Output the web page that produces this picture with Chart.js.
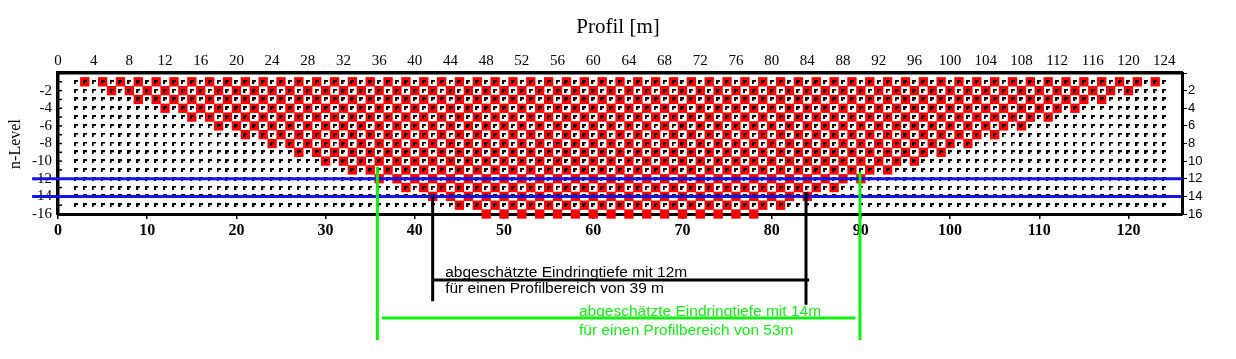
<!DOCTYPE html>
<html>
<head>
<meta charset="utf-8">
<script src="https://cdn.jsdelivr.net/npm/chart.js@4.4.1/dist/chart.umd.min.js"></script>
<style>
  html, body { margin: 0; padding: 0; background: #fff; }
</style>
</head>
<body>
<canvas id="pseudo" width="1236" height="359"></canvas>
<script>
// ---------------------------------------------------------------------------
// Daten (aus der Pseudosektion abgelesen)
// ---------------------------------------------------------------------------
const titel = 'Profil [m]';
const achseY = 'n-Level';

// n-Level der Messpunkte
const levels = [1, 2, 3, 4, 5, 6, 7, 8, 9, 10, 11, 12, 13, 14, 15, 16];

// schwarze Messpunkte: Positionen pro Level (Level 1..15)
const schwarzLevels = [1, 2, 3, 4, 5, 6, 7, 8, 9, 10, 11, 12, 13, 14, 15];
const schwarzX = [2,3,4,5,6,7,8,9,10,11,12,13,14,15,16,17,18,19,20,21,22,23,24,25,26,27,28,29,30,31,32,33,34,35,36,37,38,39,40,41,42,43,44,45,46,47,48,49,50,51,52,53,54,55,56,57,58,59,60,61,62,63,64,65,66,67,68,69,70,71,72,73,74,75,76,77,78,79,80,81,82,83,84,85,86,87,88,89,90,91,92,93,94,95,96,97,98,99,100,101,102,103,104,105,106,107,108,109,110,111,112,113,114,115,116,117,118,119,120,121,122,123,124];

// rote Messpunkte: eine Liste pro Level
const rotL1  = [3,5,7,9,11,13,15,17,19,21,23,25,27,29,31,33,35,37,39,41,43,45,47,49,51,53,55,57,59,61,63,65,67,69,71,73,75,77,79,81,83,85,87,89,91,93,95,97,99,101,103,105,107,109,111,113,115,117,119,121,123];
const rotL2  = [6,8,10,12,14,16,18,20,22,24,26,28,30,32,34,36,38,40,42,44,46,48,50,52,54,56,58,60,62,64,66,68,70,72,74,76,78,80,82,84,86,88,90,92,94,96,98,100,102,104,106,108,110,112,114,116,118,120];
const rotL3  = [9,11,13,15,17,19,21,23,25,27,29,31,33,35,37,39,41,43,45,47,49,51,53,55,57,59,61,63,65,67,69,71,73,75,77,79,81,83,85,87,89,91,93,95,97,99,101,103,105,107,109,111,113,115,117];
const rotL4  = [12,14,16,18,20,22,24,26,28,30,32,34,36,38,40,42,44,46,48,50,52,54,56,58,60,62,64,66,68,70,72,74,76,78,80,82,84,86,88,90,92,94,96,98,100,102,104,106,108,110,112,114];
const rotL5  = [15,17,19,21,23,25,27,29,31,33,35,37,39,41,43,45,47,49,51,53,55,57,59,61,63,65,67,69,71,73,75,77,79,81,83,85,87,89,91,93,95,97,99,101,103,105,107,109,111];
const rotL6  = [18,20,22,24,26,28,30,32,34,36,38,40,42,44,46,48,50,52,54,56,58,60,62,64,66,68,70,72,74,76,78,80,82,84,86,88,90,92,94,96,98,100,102,104,106,108];
const rotL7  = [21,23,25,27,29,31,33,35,37,39,41,43,45,47,49,51,53,55,57,59,61,63,65,67,69,71,73,75,77,79,81,83,85,87,89,91,93,95,97,99,101,103,105];
const rotL8  = [24,26,28,30,32,34,36,38,40,42,44,46,48,50,52,54,56,58,60,62,64,66,68,70,72,74,76,78,80,82,84,86,88,90,92,94,96,98,100,102];
const rotL9  = [27,29,31,33,35,37,39,41,43,45,47,49,51,53,55,57,59,61,63,65,67,69,71,73,75,77,79,81,83,85,87,89,91,93,95,97,99];
const rotL10 = [30,32,34,36,38,40,42,44,46,48,50,52,54,56,58,60,62,64,66,68,70,72,74,76,78,80,82,84,86,88,90,92,94,96];
const rotL11 = [33,35,37,39,41,43,45,47,49,51,53,55,57,59,61,63,65,67,69,71,73,75,77,79,81,83,85,87,89,91,93];
const rotL12 = [36,38,40,42,44,46,48,50,52,54,56,58,60,62,64,66,68,70,72,74,76,78,80,82,84,86,88,90];
const rotL13 = [39,41,43,45,47,49,51,53,55,57,59,61,63,65,67,69,71,73,75,77,79,81,83,85,87];
const rotL14 = [42,44,46,48,50,52,54,56,58,60,62,64,66,68,70,72,74,76,78,80,82,84];
const rotL15 = [45,47,49,51,53,55,57,59,61,63,65,67,69,71,73,75,77,79,81];
const rotL16 = [48,50,52,54,56,58,60,62,64,66,68,70,72,74,76,78];
const rotX = [rotL1, rotL2, rotL3, rotL4, rotL5, rotL6, rotL7, rotL8,
              rotL9, rotL10, rotL11, rotL12, rotL13, rotL14, rotL15, rotL16];

// Markierungen: Eindringtiefen (blau) und Profilbereiche
const tiefenBlau = [12, 14];
const gruenX = [35.8, 89.9];       // Profilbereich 53 m
const gruenOben = [10.6, 11.2];
const schwarzBereichX = [42.0, 83.85]; // Profilbereich 39 m
const textSchwarz = ['abgeschätzte Eindringtiefe mit 12m', 'für einen Profilbereich von 39 m'];
const textGruen = ['abgeschätzte Eindringtiefe mit 14m', 'für einen Profilbereich von 53m'];


// ---------------------------------------------------------------------------
// Punkte aufbauen
// ---------------------------------------------------------------------------
const punkteSchwarz = schwarzLevels.flatMap(n => schwarzX.map(x => ({ x, y: -n })));
const punkteRot = rotX.flatMap((reihe, i) => reihe.map(x => ({ x, y: -levels[i] })));

// kleines "r"-foermiges Punktsymbol
const strich = document.createElement('canvas');
strich.width = 4;
strich.height = 4;
const sctx = strich.getContext('2d');
sctx.fillStyle = '#000';
sctx.fillRect(0, 0, 4, 2);
sctx.fillRect(0, 2, 2, 2);

const SERIF = '"Liberation Serif", "Times New Roman", serif';
const SANS = '"Liberation Sans", Arial, sans-serif';
const BLAU = '#1414e6';
const GRUEN = '#12f012';


// ---------------------------------------------------------------------------
// Zusatz-Zeichnungen (Titel, Linien, Texte)
// ---------------------------------------------------------------------------
const zusatz = {
    id: 'zusatz',
    afterDraw(chart) {
        const { ctx } = chart;
        const x = chart.scales.x;
        const y = chart.scales.y;
        const px = v => x.getPixelForValue(v);
        const py = v => y.getPixelForValue(v);

        ctx.save();

        // Titel
        ctx.fillStyle = '#000';
        ctx.font = '21px ' + SERIF;
        ctx.textAlign = 'center';
        ctx.textBaseline = 'middle';
        ctx.fillText(titel, chart.width / 2, 27);

        // Achsentitel links
        ctx.save();
        ctx.translate(16, 144);
        ctx.rotate(-Math.PI / 2);
        ctx.font = '16px ' + SERIF;
        ctx.fillText(achseY, 0, 0);
        ctx.restore();

        // Kamm links (Ticks nach innen)
        ctx.strokeStyle = '#000';
        ctx.lineWidth = 1.5;
        levels.forEach(n => {
            ctx.beginPath();
            ctx.moveTo(chart.chartArea.left, py(-n));
            ctx.lineTo(chart.chartArea.left + 4, py(-n));
            ctx.stroke();
        });

        // blaue Tiefenlinien
        ctx.strokeStyle = BLAU;
        ctx.lineWidth = 3;
        tiefenBlau.forEach(t => {
            ctx.beginPath();
            ctx.moveTo(px(-2.9), py(-t));
            ctx.lineTo(px(126), py(-t));
            ctx.stroke();
        });

        // schwarzer Bereich
        ctx.strokeStyle = '#000';
        ctx.lineWidth = 3;
        ctx.beginPath();
        ctx.moveTo(px(schwarzBereichX[0]), py(-14));
        ctx.lineTo(px(schwarzBereichX[0]), py(-25.9));
        ctx.moveTo(px(schwarzBereichX[1]), py(-13.5));
        ctx.lineTo(px(schwarzBereichX[1]), py(-26.3));
        ctx.moveTo(px(schwarzBereichX[0]), py(-23.5));
        ctx.lineTo(px(84.2), py(-23.5));
        ctx.stroke();

        // gruener Bereich
        ctx.strokeStyle = GRUEN;
        ctx.beginPath();
        gruenX.forEach((g, i) => {
            ctx.moveTo(px(g), py(-gruenOben[i]));
            ctx.lineTo(px(g), py(-30.3));
        });
        ctx.moveTo(px(36.3), py(-27.8));
        ctx.lineTo(px(89.4), py(-27.8));
        ctx.stroke();

        // Texte
        ctx.font = '15.5px ' + SANS;
        ctx.textAlign = 'left';
        ctx.textBaseline = 'alphabetic';
        ctx.fillStyle = '#000';
        ctx.fillText(textSchwarz[0], px(43.4), py(-23.2));
        ctx.fillText(textSchwarz[1], px(43.4), py(-24.95));
        ctx.fillStyle = GRUEN;
        ctx.fillText(textGruen[0], px(58.4), py(-27.6));
        ctx.fillText(textGruen[1], px(58.4), py(-29.7));

        ctx.restore();
    }
};


// ---------------------------------------------------------------------------
// Chart
// ---------------------------------------------------------------------------
new Chart(document.getElementById('pseudo'), {
    type: 'scatter',
    data: {
        datasets: [
            {
                label: 'Messpunkte',
                data: punkteSchwarz,
                pointStyle: strich,
                pointRadius: 2,
                backgroundColor: '#000',
                clip: false,
                order: 0
            },
            {
                label: 'Auswahl',
                data: punkteRot,
                pointStyle: 'rect',
                pointRadius: 6.6,
                backgroundColor: '#ff0000',
                borderWidth: 0,
                clip: false,
                order: 1
            }
        ]
    },
    options: {
        responsive: false,
        animation: false,
        events: [],
        layout: { padding: 0 },
        plugins: { legend: { display: false }, tooltip: { enabled: false } },
        scales: {
            x: {
                type: 'linear', position: 'bottom', min: 0, max: 126, z: 1,
                afterFit: s => { s.height = 145; },
                ticks: {
                    stepSize: 10, includeBounds: false, color: '#000', padding: 2, maxRotation: 0, autoSkip: false,
                    font: { family: SERIF, size: 16, weight: 'bold' }
                },
                grid: { drawOnChartArea: false, drawTicks: true, tickLength: 5, color: '#000', lineWidth: 1.5 },
                border: { display: true, color: '#000', width: 3 }
            },
            x2: {
                type: 'linear', position: 'top', min: 0, max: 126,
                afterFit: s => { s.height = 73; },
                ticks: {
                    stepSize: 4, includeBounds: false, color: '#000', padding: 3, maxRotation: 0, autoSkip: false,
                    font: { family: SERIF, size: 15 }
                },
                grid: { drawOnChartArea: false, drawTicks: false },
                border: { display: true, color: '#000', width: 3.5 }
            },
            y: {
                type: 'linear', position: 'left', min: -16, max: 0,
                afterFit: s => { s.width = 58; },
                ticks: {
                    stepSize: 2, includeBounds: false, autoSkip: false, color: '#000', padding: 6,
                    font: { family: SERIF, size: 15 },
                    callback: v => (v === 0 ? '' : v)
                },
                grid: { drawOnChartArea: false, drawTicks: false },
                border: { display: true, color: '#000', width: 3.5 }
            },
            y2: {
                type: 'linear', position: 'right', min: -16, max: 0,
                afterFit: s => { s.width = 54; },
                ticks: {
                    stepSize: 2, includeBounds: false, autoSkip: false, color: '#000', padding: 1,
                    font: { family: SANS, size: 13 },
                    callback: v => (v === 0 ? '' : Math.abs(v))
                },
                grid: { drawOnChartArea: false, drawTicks: true, tickLength: 5, color: '#000', lineWidth: 1 },
                border: { display: true, color: '#000', width: 3 }
            }
        }
    },
    plugins: [zusatz]
});
</script>
</body>
</html>
